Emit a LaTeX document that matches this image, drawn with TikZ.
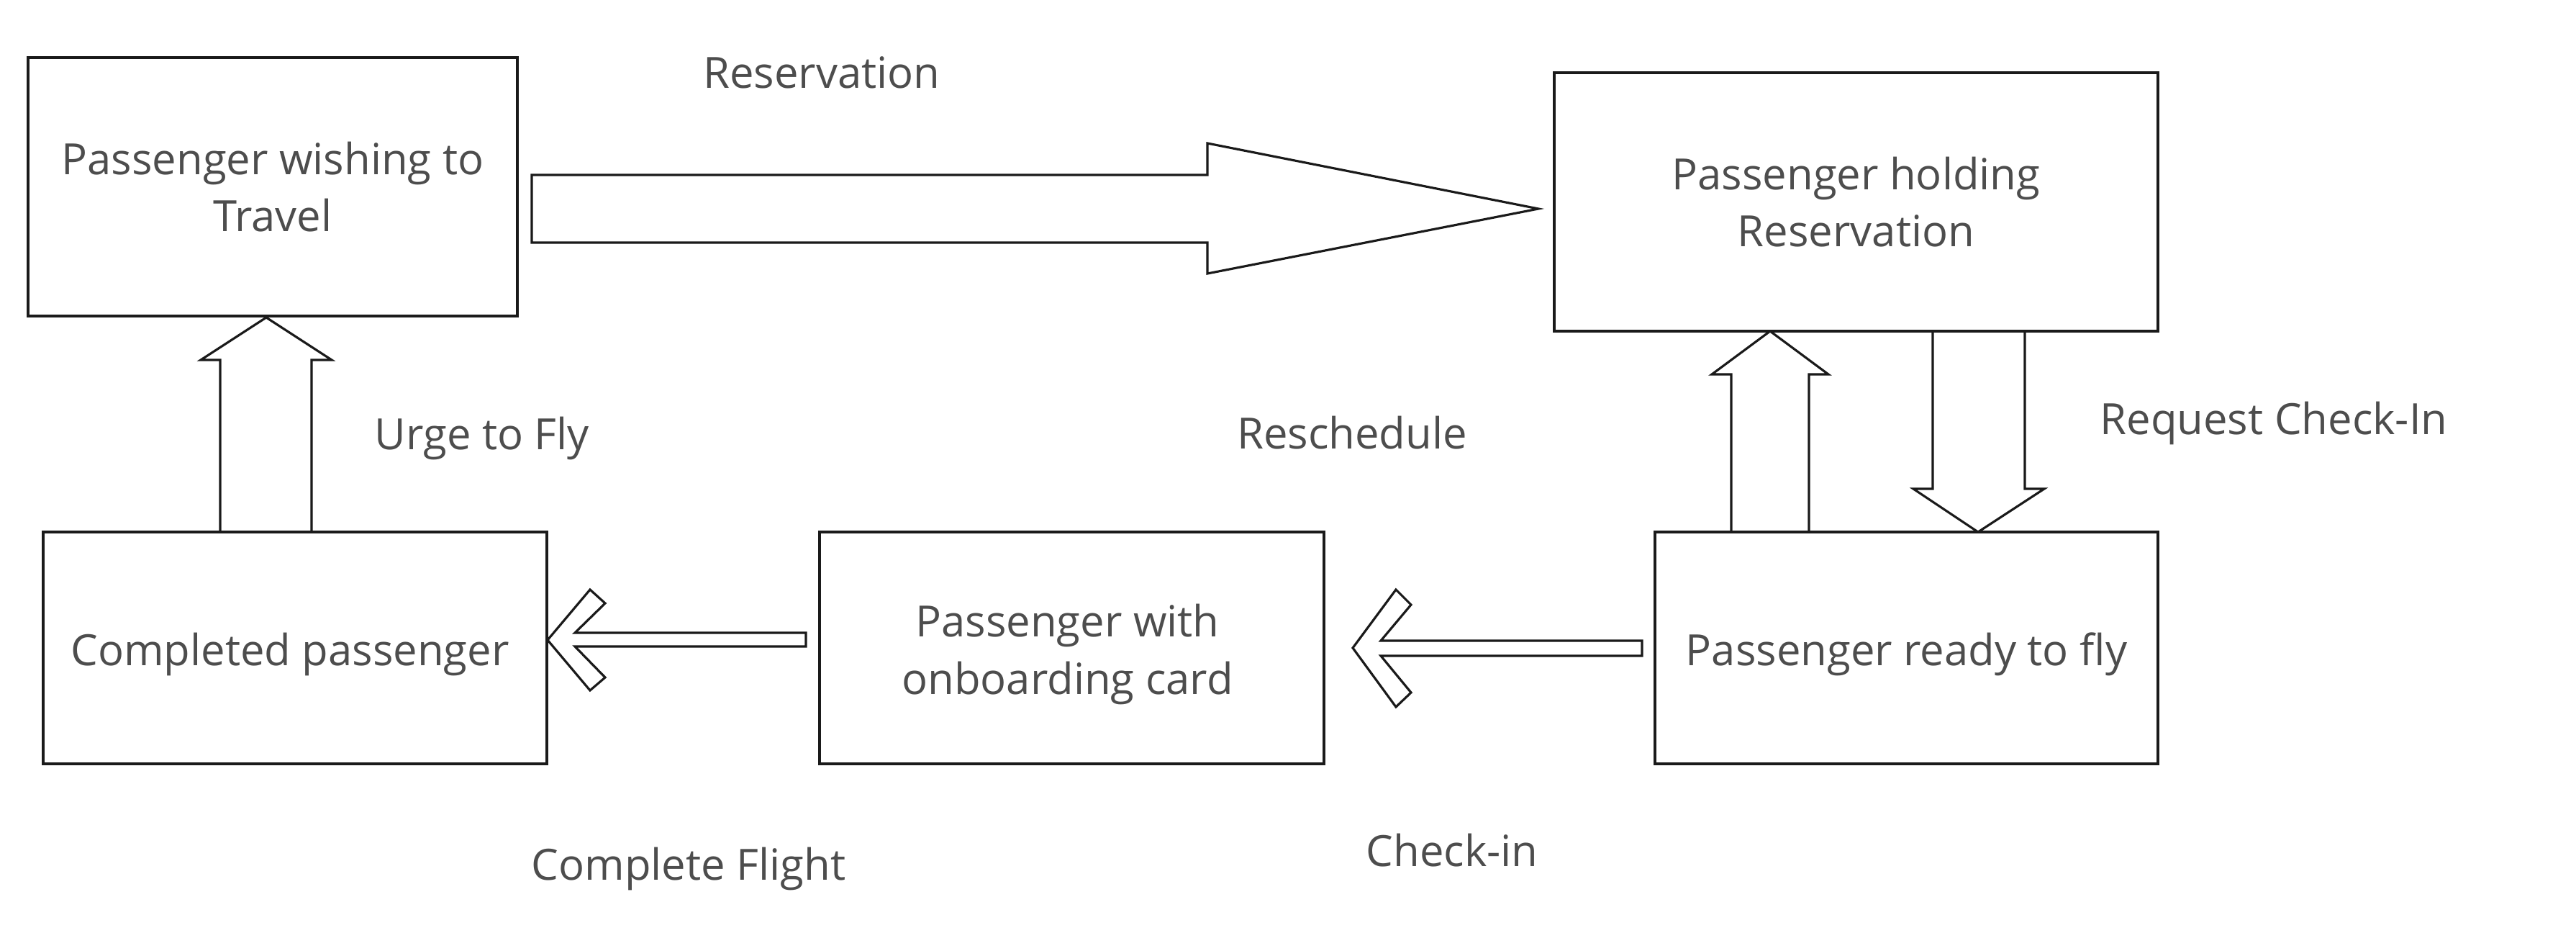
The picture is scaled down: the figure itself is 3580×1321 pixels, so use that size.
\documentclass[tikz,border=0pt]{standalone}
\usepackage{fontspec}
\setmainfont{Open Sans}
\usetikzlibrary{calc}
\definecolor{txt}{HTML}{4D4D4D}
\definecolor{ln}{HTML}{1A1A1A}
\begin{document}
\begin{tikzpicture}[x=0.01cm,y=-0.01cm,
  every node/.style={font=\fontsize{17}{22.6}\selectfont, text=txt},
  box/.style={draw=ln, line width=1.1pt, align=center, inner sep=0pt},
  boxtxt/.style={align=center, inner sep=0pt},
  lbl/.style={anchor=base, inner sep=0pt},
  blk/.style={draw=ln, line width=0.9pt, line join=miter}]
\useasboundingbox (0,0) rectangle (3580,1321);
\fill[white] (0,0) rectangle (3580,1321);
% boxes
\node[box, minimum width=6.80cm, minimum height=3.59cm] (A) at (379,259.5) {Passenger wishing to\\Travel};
\node[box, minimum width=8.39cm, minimum height=3.59cm] (B) at (2579.5,280.5) {Passenger holding\\Reservation};
\node[box, minimum width=6.99cm, minimum height=3.22cm] (C) at (2649.5,900) {};
\node[boxtxt] (Ct) at ($(C.center)+(0,9)$) {Passenger ready to fly};
\node[box, minimum width=7.00cm, minimum height=3.22cm] (D) at (410,900) {};
\node[boxtxt] (Dt) at ($(D.center)+(-7,9)$) {Completed passenger};
\node[box, minimum width=7.01cm, minimum height=3.22cm] (E) at (1489.5,900) {};
\node[boxtxt] (Et) at ($(E.center)+(-6,9)$) {Passenger with\\onboarding card};
% Reservation arrow A -> B
\draw[blk] (739,243) -- (1678,243) -- (1678,199) -- (2138,290) -- (1678,380) -- (1678,337) -- (739,337) -- cycle;
% Urge to Fly arrow D -> A
\draw[blk] (306,739) -- (306,500) -- (279,500) -- (370,441) -- (461,500) -- (433,500) -- (433,739);
% Reschedule arrow C -> B
\draw[blk] (2406,739) -- (2406,520) -- (2379,520) -- (2460,460) -- (2541,520) -- (2514,520) -- (2514,739);
% Request Check-In arrow B -> C
\draw[blk] (2686,460) -- (2686,679) -- (2659,679) -- (2749,739) -- (2841,679) -- (2814,679) -- (2814,460);
% Complete Flight arrow E -> D
\draw[blk] (761,889) -- (820,819) -- (841,838) -- (799,879) -- (1120,879) -- (1120,898) -- (799,898) -- (841,941) -- (820,959) -- cycle;
% Check-in arrow C -> E
\draw[blk] (1880,900) -- (1940,819) -- (1961,840) -- (1919,890) -- (2282,890) -- (2282,911) -- (1919,911) -- (1961,962) -- (1940,982) -- cycle;
% labels
\node[lbl] (lres) at (1142,123) {Reservation};
\node[lbl] (lurge) at (670,624) {Urge to Fly};
\node[lbl] (lresch) at (1879,623) {Reschedule};
\node[lbl] (lreq) at (3160,603) {Request Check-In};
\node[lbl] (lcf) at (957,1222) {Complete Flight};
\node[lbl] (lci) at (2018,1203) {Check-in};
\end{tikzpicture}
\end{document}
